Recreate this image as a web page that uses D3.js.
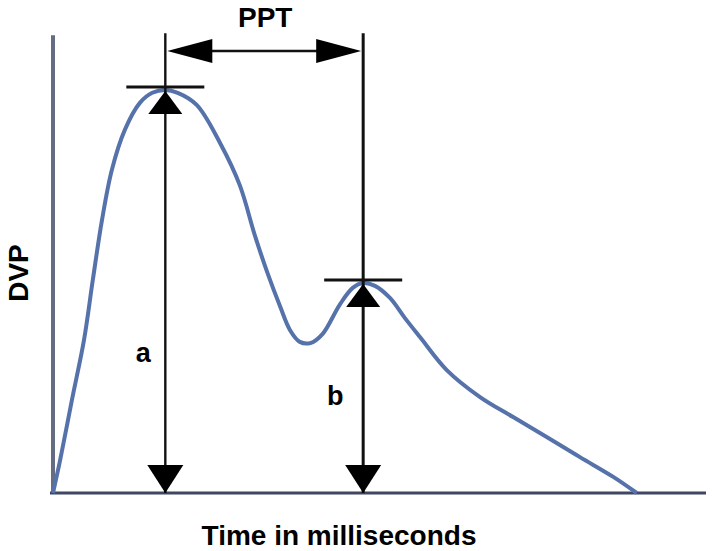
<!DOCTYPE html>
<html>
<head>
<meta charset="utf-8">
<script src="https://cdn.jsdelivr.net/npm/d3@7"></script>
<style>
  html, body { margin: 0; padding: 0; background: #ffffff; }
  svg { display: block; }
  text { font-family: "Liberation Sans", Arial, Helvetica, sans-serif; font-weight: bold; fill: #000; }
</style>
</head>
<body>
<svg id="chart" width="712" height="551"></svg>
<script>
// ---- Data (time in ms, DVP normalised amplitude) ----
const time = [0, 11, 29, 47.5, 61, 75, 90, 110, 133, 152, 172, 191, 220, 256, 286, 309, 328, 348, 363, 378, 394, 413, 439, 459, 475, 493, 516, 539, 562, 603, 654, 704, 756, 807, 858, 894];
const dvp  = [0, 0.082, 0.231, 0.380, 0.529, 0.677, 0.801, 0.901, 0.968, 0.993, 1.0, 0.993, 0.963, 0.868, 0.764, 0.640, 0.548, 0.462, 0.404, 0.375, 0.372, 0.395, 0.467, 0.509, 0.521, 0.514, 0.484, 0.434, 0.387, 0.305, 0.238, 0.189, 0.139, 0.089, 0.040, 0];
const peakTimes = [172, 475];
const peakValues = [1.0, 0.521];
const peakLabels = ["a", "b"];
const pptLabel = "PPT";
const xTitle = "Time in milliseconds";
const yTitle = "DVP";

const svg = d3.select("#chart");
const x = d3.scaleLinear().domain([0, 1000]).range([53, 706]);
const y = d3.scaleLinear().domain([0, 1]).range([493, 90]);
const yTop = 1.141;   // top of axis / measurement lines
const yPPT = 1.097;   // level of the PPT arrow

// axes (plain lines, no ticks)
svg.append("line")
  .attr("x1", x(0)).attr("x2", x(0))
  .attr("y1", y(yTop) + 2).attr("y2", y(0) + 1)
  .attr("stroke", "#646d82").attr("stroke-width", 4);
svg.append("line")
  .attr("x1", x(0) - 3).attr("x2", x(1000))
  .attr("y1", y(0)).attr("y2", y(0))
  .attr("stroke", "#3f4763").attr("stroke-width", 3);

// waveform
const line = d3.line()
  .x((d, i) => x(time[i]))
  .y((d, i) => y(dvp[i]))
  .curve(d3.curveCatmullRom.alpha(0.5));
svg.append("path")
  .datum(dvp)
  .attr("d", line)
  .attr("fill", "none")
  .attr("stroke", "#5672ab")
  .attr("stroke-width", 4)
  .attr("stroke-linejoin", "round");

// measurement lines a and b
peakTimes.forEach((t, i) => {
  const px = x(t);
  const py = y(peakValues[i]);
  const base = y(0);
  svg.append("line")
    .attr("x1", px).attr("x2", px)
    .attr("y1", y(yTop)).attr("y2", base)
    .attr("stroke", "#111").attr("stroke-width", i === 0 ? 2.4 : 3);
  // horizontal tick at the peak
  svg.append("line")
    .attr("x1", px - 39).attr("x2", px + 39)
    .attr("y1", py - 3).attr("y2", py - 3)
    .attr("stroke", "#111").attr("stroke-width", 3);
  // up-pointing arrowhead under the peak
  svg.append("path")
    .attr("d", `M${px},${py + 1} L${px - 17},${py + 24} L${px + 17},${py + 24} Z`)
    .attr("fill", "#000");
  // down-pointing arrowhead at the baseline
  svg.append("path")
    .attr("d", `M${px},${base} L${px - 18},${base - 28} L${px + 18},${base - 28} Z`)
    .attr("fill", "#000");
  // label
  svg.append("text")
    .attr("x", i === 0 ? px - 22 : px - 28)
    .attr("y", i === 0 ? 362 : 405)
    .attr("text-anchor", "middle")
    .attr("font-size", 27)
    .text(peakLabels[i]);
});

// PPT double arrow
{
  const x1 = x(peakTimes[0]) + 2, x2 = x(peakTimes[1]) - 2, py = y(yPPT);
  svg.append("line")
    .attr("x1", x1 + 20).attr("x2", x2 - 20)
    .attr("y1", py).attr("y2", py)
    .attr("stroke", "#111").attr("stroke-width", 2.5);
  svg.append("path")
    .attr("d", `M${x1},${py} L${x1 + 45},${py - 12} L${x1 + 45},${py + 12} Z`)
    .attr("fill", "#000");
  svg.append("path")
    .attr("d", `M${x2},${py} L${x2 - 45},${py - 12} L${x2 - 45},${py + 12} Z`)
    .attr("fill", "#000");
  svg.append("text")
    .attr("x", (x1 + x2) / 2 + 1)
    .attr("y", 27)
    .attr("text-anchor", "middle")
    .attr("font-size", 28)
    .text(pptLabel);
}

// axis titles
svg.append("text")
  .attr("x", 339).attr("y", 545)
  .attr("text-anchor", "middle")
  .attr("font-size", 28)
  .text(xTitle);
svg.append("text")
  .attr("transform", "translate(28,273) rotate(-90)")
  .attr("text-anchor", "middle")
  .attr("font-size", 28)
  .text(yTitle);
</script>
</body>
</html>
